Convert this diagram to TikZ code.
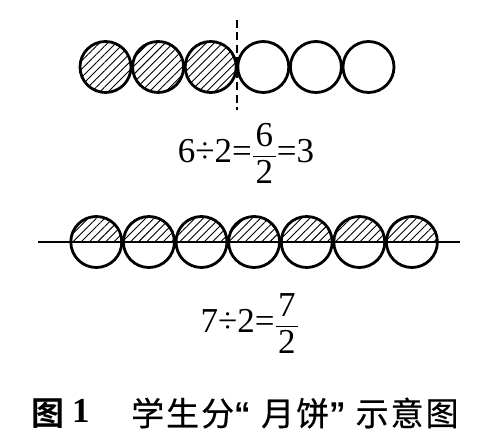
\documentclass[tikz,border=0pt]{standalone}
\usepackage{amsmath}
\usepackage{fontspec}
\setmainfont{Liberation Serif}
\newfontfamily\cjk[LetterSpace=6,FakeBold=0.5]{Noto Sans CJK SC}
\newfontfamily\cjkb[BoldFont={Noto Sans CJK SC Bold}]{Noto Sans CJK SC}
\newfontfamily\qf{Liberation Sans}
\usetikzlibrary{patterns.meta}
\newcommand{\padfrac}[2]{\frac{\kern2.5pt\text{#1}\kern2.5pt}{\kern2.5pt\text{#2}\kern2.5pt}}
\begin{document}
\begin{tikzpicture}[x=1pt,y=1pt,
  hatch/.style={pattern={Lines[angle=45,distance=5.8pt,line width=0.9pt]}},
  cake/.style={circle,draw,line width=2.8pt,minimum size=51pt,inner sep=0pt},
  eq/.style={anchor=base,inner sep=0pt,font=\fontsize{35}{42}\selectfont},
  captext/.style={anchor=base west,inner sep=0pt}]
\useasboundingbox (0,0) rectangle (500,446);
% top row
\foreach \i in {1,...,6}{
  \pgfmathsetmacro\cx{105.5+52.6*(\i-1)}
  \ifnum\i<4
    \node[cake,hatch] (t\i) at (\cx,379) {};
  \else
    \node[cake] (t\i) at (\cx,379) {};
  \fi
}
\coordinate (dtop) at (237.3,426);
\coordinate (dbot) at (237.3,336);
\draw[line width=1.8pt,dash pattern=on 8pt off 4.5pt] (dtop) -- (dbot);
% equation 1
\node[eq] (eqa) at (246,283) {$\displaystyle\text{6÷2=}\padfrac{6}{2}\text{=3}$};
% bottom row
\foreach \i in {1,...,7}{
  \pgfmathsetmacro\cx{96.3+52.6*(\i-1)}
  \fill[hatch] (\cx-25.5,204) arc[start angle=180,end angle=0,radius=25.5] -- cycle;
  \node[cake] (b\i) at (\cx,204) {};
}
\coordinate (hl) at (38,204);
\coordinate (hr) at (460,204);
\draw[line width=1.8pt] (hl) -- (hr);
% equation 2
\node[eq] (eqb) at (250,113) {$\displaystyle\text{7÷2=}\padfrac{7}{2}$};
% caption
\node[captext] (fig) at (31,20.3) {\fontsize{33}{38}\selectfont\cjkb\bfseries 图\hspace{8pt}\raisebox{3pt}{\fontsize{35}{38}\selectfont\rmfamily\bfseries 1}};
\node[captext] (title) at (131,20.3) {\fontsize{33}{38}\selectfont\cjk 学生分{\qf\bfseries “}\hspace{10.5pt}月饼{\qf\bfseries ”}\hspace{10pt}示意图};
\end{tikzpicture}
\end{document}
